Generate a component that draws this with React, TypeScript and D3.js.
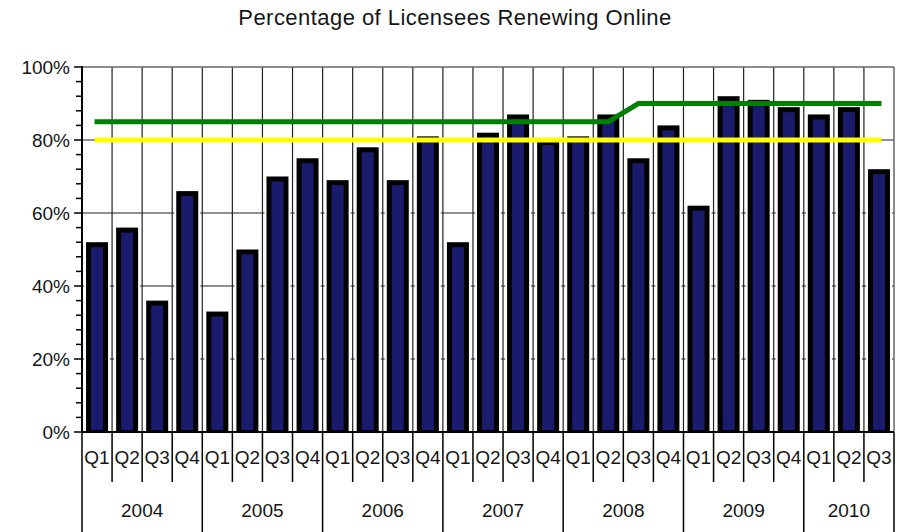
import React from "react";
import * as d3 from "d3";

const years = ["2004", "2005", "2006", "2007", "2008", "2009", "2010"];
const quarters = ["Q1", "Q2", "Q3", "Q4"];
const categories: { year: string; q: string }[] = [];
years.forEach((y) => {
  const n = y === "2010" ? 3 : 4;
  for (let i = 0; i < n; i++) categories.push({ year: y, q: quarters[i] });
});
const renewalPct = [52, 56, 36, 66, 33, 50, 70, 75, 69, 78, 69, 81, 52, 82, 87, 80, 81, 87, 75, 84, 62, 92, 91, 89, 87, 89, 72];
const goalPct = [85, 85, 85, 85, 85, 85, 85, 85, 85, 85, 85, 85, 85, 85, 85, 85, 85, 85, 90, 90, 90, 90, 90, 90, 90, 90, 90];
const baselinePct = [80, 80, 80, 80, 80, 80, 80, 80, 80, 80, 80, 80, 80, 80, 80, 80, 80, 80, 80, 80, 80, 80, 80, 80, 80, 80, 80];
const yTicks = [0, 20, 40, 60, 80, 100];
const title = "Percentage of Licensees Renewing Online";

const W = 907, H = 532;
const L = 82, R = 894, T = 67, B = 432;
const FONT = "'Liberation Sans', Arial, sans-serif";
const TEXT = "#151515";

export default function App() {
  const keys = categories.map((_, i) => String(i));
  const x = d3.scaleBand<string>().domain(keys).range([L, R]).padding(0);
  const y = d3.scaleLinear().domain([0, 100]).range([B, T]);
  const bw = x.bandwidth();
  const cx = (i: number) => (x(String(i)) as number) + bw / 2;
  const minor = d3.range(0, 101, 4).filter((v) => v % 20 !== 0);
  const line = d3.line<number>().x((_, i) => cx(i)).y((d) => y(d));

  // year spans
  const yearSpans = years.map((yr) => {
    const idx = categories.map((c, i) => (c.year === yr ? i : -1)).filter((i) => i >= 0);
    const x0 = x(String(idx[0])) as number;
    const x1 = (x(String(idx[idx.length - 1])) as number) + bw;
    return { yr, x0, x1 };
  });

  return (
    <svg width={W} height={H} style={{ position: "absolute", left: 0, top: 0, background: "#fff" }}>
      <rect x={0} y={0} width={W} height={H} fill="#fff" />
      <text x={455} y={25} textAnchor="middle" fontFamily={FONT} fontSize={22} letterSpacing={0.45} fill={TEXT}>
        {title}
      </text>
      {/* horizontal gridlines */}
      {yTicks.filter((v) => v > 0 && v < 100).map((v) => (
        <line key={"h" + v} x1={L} x2={R} y1={y(v)} y2={y(v)} stroke="#222" strokeWidth={1.2} />
      ))}
      {/* vertical gridlines */}
      {categories.map((_, i) => (
        <line key={"v" + i} x1={x(String(i)) as number} x2={x(String(i)) as number} y1={T} y2={B} stroke="#222" strokeWidth={1.2} />
      ))}
      {/* frame top/right */}
      <line x1={L} x2={R} y1={T} y2={T} stroke="#666" strokeWidth={1.5} />
      <line x1={R} x2={R} y1={T} y2={B} stroke="#666" strokeWidth={1.5} />
      {/* bars */}
      {renewalPct.map((v, i) => {
        const c = cx(i);
        return (
          <g key={"b" + i}>
            <rect x={c - 13} y={y(v) - 2} width={26} height={B - y(v) + 2} fill="#fff" />
            <rect x={c - 11} y={y(v)} width={22} height={B - y(v)} fill="#000" />
            <rect x={c - 6} y={y(v) + 5} width={12} height={Math.max(0, B - y(v) - 7)} fill="#1b1b6e" />
          </g>
        );
      })}
      {/* axes */}
      <line x1={L} x2={L} y1={T - 1} y2={B} stroke="#000" strokeWidth={2} />
      <line x1={L} x2={R} y1={B} y2={B} stroke="#000" strokeWidth={2} />
      {yTicks.map((v) => (
        <g key={"yt" + v}>
          <line x1={L - 8} x2={L} y1={y(v)} y2={y(v)} stroke="#000" strokeWidth={1.5} />
          <text x={70} y={y(v) + 7} textAnchor="end" fontFamily={FONT} fontSize={19} fill={TEXT}>
            {v + "%"}
          </text>
        </g>
      ))}
      {minor.map((v) => (
        <line key={"mt" + v} x1={L - 6} x2={L} y1={y(v)} y2={y(v)} stroke="#000" strokeWidth={1.5} />
      ))}
      {/* category axis */}
      {categories.map((c, i) => {
        const x0 = x(String(i)) as number;
        const isYearStart = c.q === "Q1";
        return (
          <g key={"c" + i}>
            <line x1={x0} x2={x0} y1={B} y2={isYearStart ? H : 482} stroke="#000" strokeWidth={1.5} />
            <text x={cx(i)} y={464} textAnchor="middle" fontFamily={FONT} fontSize={19} fill={TEXT}>
              {c.q}
            </text>
          </g>
        );
      })}
      <line x1={R} x2={R} y1={B} y2={H} stroke="#000" strokeWidth={1.5} />
      {yearSpans.map((s) => (
        <text key={s.yr} x={(s.x0 + s.x1) / 2} y={517} textAnchor="middle" fontFamily={FONT} fontSize={19} fill={TEXT}>
          {s.yr}
        </text>
      ))}
      {/* target lines */}
      <path d={line(goalPct) as string} fill="none" stroke="#008000" strokeWidth={5} strokeLinecap="square" />
      <path d={line(baselinePct) as string} fill="none" stroke="#ffff00" strokeWidth={5} strokeLinecap="square" />
    </svg>
  );
}
